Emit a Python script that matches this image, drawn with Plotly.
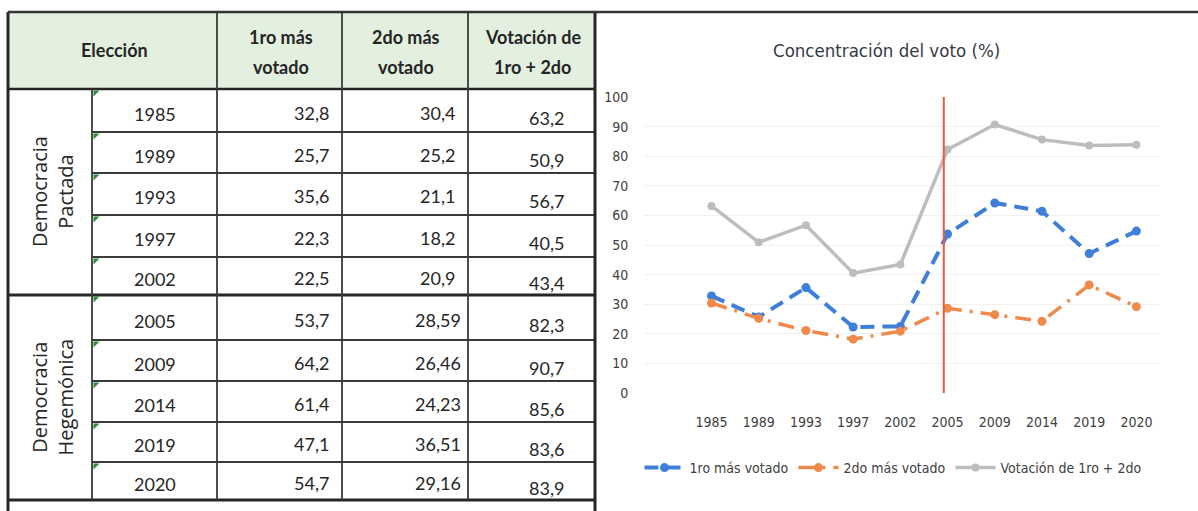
import plotly.graph_objects as go

# ---------------- data ----------------
YEARS = ["1985", "1989", "1993", "1997", "2002", "2005", "2009", "2014", "2019", "2020"]
FIRST = [32.8, 25.7, 35.6, 22.3, 22.5, 53.7, 64.2, 61.4, 47.1, 54.7]
SECOND = [30.4, 25.2, 21.1, 18.2, 20.9, 28.59, 26.46, 24.23, 36.51, 29.16]
TOTAL = [63.2, 50.9, 56.7, 40.5, 43.4, 82.3, 90.7, 85.6, 83.6, 83.9]
GROUPS = ["Democracia<br>Pactada", "Democracia<br>Hegemónica"]
GROUP_SIZES = [5, 5]
HEADERS = [["Elección"], ["1ro más", "votado"], ["2do más", "votado"], ["Votación de", "1ro + 2do"]]
SERIES_NAMES = ["1ro más votado", "2do más votado", "Votación de 1ro + 2do"]
TITLE = "Concentración del voto (%)"
Y_TICKS = list(range(0, 101, 10))
MARKER_YEAR = "2005"

# ---------------- style / geometry ----------------
W, H = 1198, 511
NARROW = "DejaVu Sans Condensed, Liberation Sans Narrow, sans-serif"
TABLE_FONT = "Lato, Carlito, Calibri, sans-serif"
GROUP_FONT = "Open Sans, sans-serif"
TXT = "#262626"
COL_X = [8, 92, 217, 342, 468, 595]          # table column edges (px)
TOP_Y = 12
HEAD_Y = 89
ROW_EDGES = [89, 132, 173, 215, 257, 295, 340, 381, 422, 462, 500]
THIN = dict(color="#3a3a3a", width=1.8)
THICK = dict(color="#262626", width=3)

def fmt(v):
    return f"{v}".replace(".", ",")

fig = go.Figure()

# ---------------- chart ----------------
styles = [
    dict(color="#3f7fd9", width=4, dash="14px,8px", msize=9),
    dict(color="#f08a4b", width=3.5, dash="16px,8px,3px,8px", msize=9),
    dict(color="#bdbdbd", width=3.5, dash="solid", msize=8),
]
for name, vals, st in zip(SERIES_NAMES, [FIRST, SECOND, TOTAL], styles):
    fig.add_trace(go.Scatter(
        x=YEARS, y=vals, name=name, mode="lines+markers",
        line=dict(color=st["color"], width=st["width"], dash=st["dash"]),
        marker=dict(color=st["color"], size=st["msize"], symbol="circle"),
        xaxis="x", yaxis="y", hoverinfo="x+y+name",
    ))

shapes = []
annotations = []

# red divider at 2005
xi = YEARS.index(MARKER_YEAR) - 0.08
shapes.append(dict(type="line", xref="x", yref="y", x0=xi, x1=xi, y0=0, y1=100,
                   line=dict(color="#ef5a3c", width=2)))

annotations.append(dict(text=TITLE, xref="paper", yref="paper", x=886 / W, y=(H - 50) / H,
                        showarrow=False, xanchor="center", yanchor="middle",
                        font=dict(family=NARROW, size=18.5, color="#353a45")))

# ---------------- table ----------------
def T(**kw):
    d = dict(xref="x2", yref="y2")
    d.update(kw)
    return d

# header background
shapes.append(T(type="rect", x0=COL_X[0], x1=COL_X[-1], y0=TOP_Y, y1=HEAD_Y,
                fillcolor="#e3efdf", line=dict(width=0), layer="below"))

# horizontal row lines
nrows = len(YEARS)
group_breaks = set()
acc = 0
for g in GROUP_SIZES:
    acc += g
    group_breaks.add(acc)
for i in range(1, nrows):
    if i in group_breaks:
        shapes.append(T(type="line", x0=COL_X[0], x1=COL_X[-1], y0=ROW_EDGES[i], y1=ROW_EDGES[i], line=THICK))
    else:
        shapes.append(T(type="line", x0=COL_X[1], x1=COL_X[-1], y0=ROW_EDGES[i], y1=ROW_EDGES[i], line=THIN))
# header bottom, table bottom
shapes.append(T(type="line", x0=COL_X[0], x1=COL_X[-1], y0=HEAD_Y, y1=HEAD_Y, line=dict(color="#262626", width=2.5)))
shapes.append(T(type="line", x0=COL_X[0], x1=COL_X[-1], y0=ROW_EDGES[-1], y1=ROW_EDGES[-1], line=THICK))
# vertical lines
shapes.append(T(type="line", x0=COL_X[1], x1=COL_X[1], y0=HEAD_Y, y1=ROW_EDGES[-1], line=THIN))
for cx in COL_X[2:-1]:
    shapes.append(T(type="line", x0=cx, x1=cx, y0=TOP_Y, y1=ROW_EDGES[-1], line=THIN))
for cx in (COL_X[0], COL_X[-1]):
    shapes.append(T(type="line", x0=cx, x1=cx, y0=TOP_Y, y1=H + 5, line=THICK))
# top border across the page
shapes.append(dict(type="line", xref="paper", yref="paper", x0=COL_X[0] / W, x1=1,
                   y0=(H - TOP_Y) / H, y1=(H - TOP_Y) / H, line=dict(color="#333333", width=2.5)))

# green error triangles
for i in range(nrows):
    x0, y0 = COL_X[1] + 1.5, ROW_EDGES[i] + 1.5
    shapes.append(T(type="path", path=f"M {x0},{y0} L {x0+6},{y0} L {x0},{y0+6} Z",
                    fillcolor="#2f8a3a", line=dict(width=0)))

# header text
def ann(text, x, y, xanchor="center", size=18, bold=False, family=TABLE_FONT, **kw):
    t = f"<b>{text}</b>" if bold else text
    d = T(text=t, x=x, y=y, showarrow=False, xanchor=xanchor, yanchor="middle",
          font=dict(family=family, size=size, color=TXT))
    d.update(kw)
    annotations.append(d)

ann(HEADERS[0][0], (COL_X[0] + COL_X[2]) / 2 + 2, 50, bold=True)
for k, lines in enumerate(HEADERS[1:], start=2):
    cx = (COL_X[k] + COL_X[k + 1]) / 2 + 1
    ann(lines[0], cx, 37, bold=True)
    ann(lines[1], cx, 67, bold=True)

# body text
for i in range(nrows):
    cy = (ROW_EDGES[i] + ROW_EDGES[i + 1]) / 2
    ann(YEARS[i], (COL_X[1] + COL_X[2]) / 2, cy + 3)
    ann(fmt(FIRST[i]), COL_X[3] - 11, cy + 2, xanchor="right")
    s = fmt(SECOND[i])
    ann(s, COL_X[4] - (5 if len(s) > 4 else 11), cy + 2, xanchor="right")
    ann(fmt(TOTAL[i]), COL_X[5] - 29, cy + 7, xanchor="right")

# group labels (rotated)
start = 0
for g, n in zip(GROUPS, GROUP_SIZES):
    cy = (ROW_EDGES[start] + ROW_EDGES[start + n]) / 2
    ann(g, (COL_X[0] + COL_X[1]) / 2 + 2, cy, size=20, family=GROUP_FONT, textangle=-90)
    start += n

fig.update_layout(
    width=W, height=H,
    margin=dict(l=0, r=0, t=0, b=0, pad=0, autoexpand=False),
    paper_bgcolor="white", plot_bgcolor="rgba(0,0,0,0)",
    showlegend=True,
    legend=dict(orientation="h", x=893 / W, y=(H - 468) / H, xanchor="center", yanchor="middle",
                font=dict(family=NARROW, size=14, color="#404040"), bgcolor="rgba(0,0,0,0)",
                itemwidth=40),
    xaxis=dict(domain=[644 / W, 1160 / W], type="category", range=[-1.43, 9.5],
               showgrid=False, showline=False, zeroline=False, automargin=False,
               ticks="outside", ticklen=16, tickcolor="rgba(0,0,0,0)",
               tickfont=dict(family=NARROW, size=14, color="#404040"), anchor="y"),
    yaxis=dict(domain=[(H - 393) / H, (H - 97) / H], range=[0, 100], tickvals=Y_TICKS,
               showgrid=True, gridcolor="#f1f1f1", gridwidth=1, zeroline=False, showline=False,
               ticks="outside", ticklen=12, tickcolor="rgba(0,0,0,0)", automargin=False,
               tickfont=dict(family=NARROW, size=14, color="#404040"), anchor="x"),
    xaxis2=dict(domain=[0, 600 / W], range=[0, 600], visible=False, anchor="y2",
                fixedrange=True, automargin=False),
    yaxis2=dict(domain=[0, 1], range=[H, 0], visible=False, anchor="x2",
                fixedrange=True, automargin=False),
    shapes=shapes,
    annotations=annotations,
)

fig.write_html("out.html", config={"displayModeBar": False},
               post_script="document.body.style.margin='0';document.body.style.overflow='hidden';")
